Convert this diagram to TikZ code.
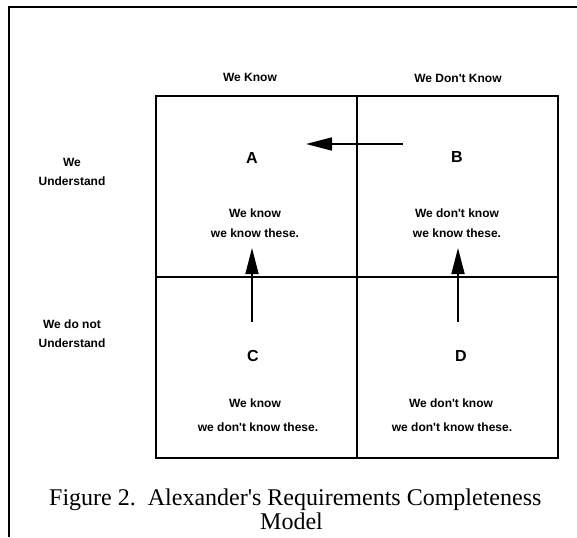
\documentclass[tikz,border=0pt]{standalone}
\usepackage{fontspec}
\setmainfont{Liberation Serif}
\newfontfamily\lsans{Liberation Sans}
\usetikzlibrary{arrows.meta}
\tikzset{
  frameline/.style={line width=2.8pt},
  cellbox/.style={draw, line width=1.7pt, minimum width=201pt, minimum height=181pt, inner sep=0pt, outer sep=0pt},
  lbl/.style={font=\lsans\bfseries\fontsize{12}{12}\selectfont, inner sep=0pt},
  letter/.style={font=\lsans\bfseries\fontsize{16}{16}\selectfont, inner sep=0pt},
  captext/.style={font=\fontsize{24}{24}\selectfont, inner sep=0pt},
  bigarrow/.style={line width=1.7pt, -{Triangle[length=26pt,width=13pt]}}
}
\begin{document}
\begin{tikzpicture}[x=1pt,y=-1pt]
\useasboundingbox (0,0) rectangle (577,537);
% outer frame
\coordinate (fTop) at (9,7);
\coordinate (fRight) at (577,7);
\coordinate (fBottom) at (9,537);
\draw[frameline] (fBottom) -- (fTop) -- (fRight);
% grid cells
\node[cellbox] (cellA) at (256.5,186.5) {};
\node[cellbox] (cellB) at (457.5,186.5) {};
\node[cellbox] (cellC) at (256.5,367.5) {};
\node[cellbox] (cellD) at (457.5,367.5) {};
% column labels
\node[lbl] (colK) at (250,77) {We Know};
\node[lbl] (colDK) at (458,78) {We Don't Know};
% row labels
\node[lbl] (rowU1) at (72,162) {We};
\node[lbl] (rowU2) at (72,181) {Understand};
\node[lbl] (rowN1) at (72,324) {We do not};
\node[lbl] (rowN2) at (72,343) {Understand};
% letters
\node[letter] (lA) at (252,158) {A};
\node[letter] (lB) at (457,157) {B};
\node[letter] (lC) at (253,356) {C};
\node[letter] (lD) at (461,356) {D};
% cell texts
\node[lbl] (tA1) at (255,213) {We know};
\node[lbl] (tA2) at (255,233) {we know these.};
\node[lbl] (tB1) at (457,213) {We don't know};
\node[lbl] (tB2) at (457,233) {we know these.};
\node[lbl] (tC1) at (255,403) {We know};
\node[lbl] (tC2) at (258,427) {we don't know these.};
\node[lbl] (tD1) at (451,403) {We don't know};
\node[lbl] (tD2) at (452,427) {we don't know these.};
% arrows
\coordinate (cTail) at (252,322);
\coordinate (aTip) at (252,248);
\coordinate (dTail) at (458,322);
\coordinate (bTip) at (458,248);
\coordinate (bTail) at (403,144);
\coordinate (aTipH) at (306,144);
\draw[bigarrow] (cTail) -- (aTip);
\draw[bigarrow] (dTail) -- (bTip);
\draw[bigarrow] (bTail) -- (aTipH);
% caption
\node[captext, anchor=base west] (cap1) at (49,505) {Figure 2.\ \ Alexander\textquotesingle s Requirements Completeness};
\node[captext, anchor=base] (cap2) at (291.5,529) {Model};
\end{tikzpicture}
\end{document}
